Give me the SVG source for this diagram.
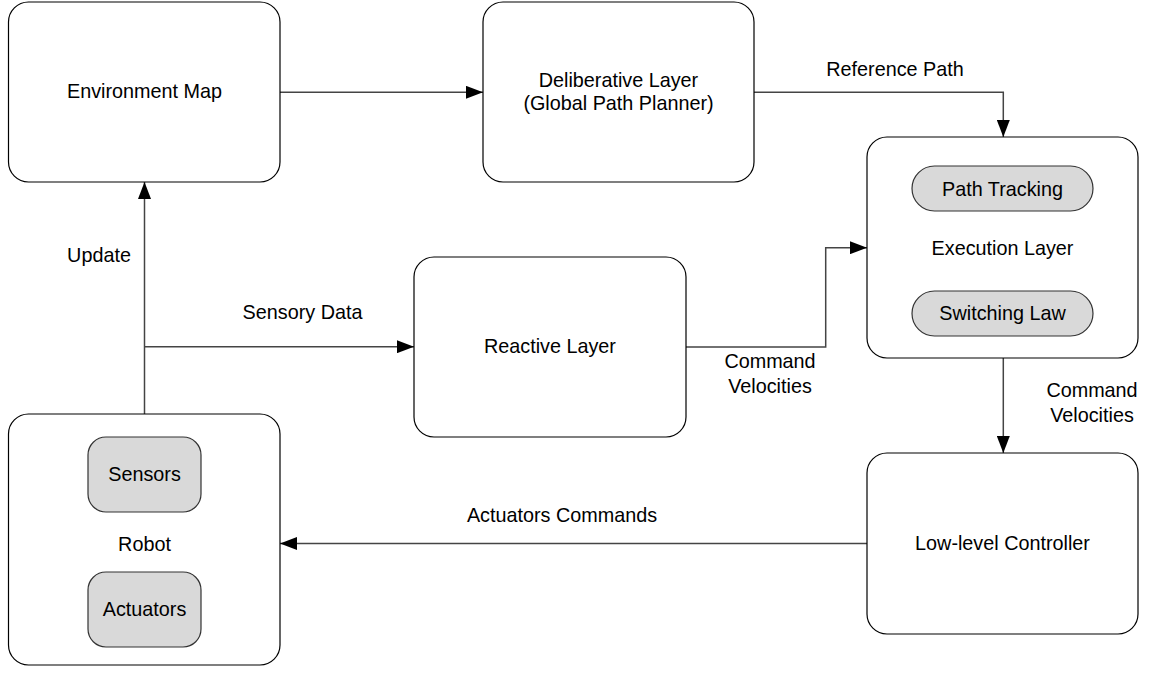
<svg xmlns="http://www.w3.org/2000/svg" width="1152" height="675" viewBox="0 0 1152 675">
<defs>
<style>
.box{fill:#fff;stroke:#000;stroke-width:1.2}
.sub{fill:#d9d9d9;stroke:#333;stroke-width:1.2}
.t{font-family:"Liberation Sans",Arial,sans-serif;font-size:19.8px;fill:#000;text-anchor:middle}
.c{fill:none;stroke:#444;stroke-width:1.5}
</style>
<marker id="ah" viewBox="0 0 17 13" refX="17" refY="6.5" markerWidth="17" markerHeight="13" markerUnits="userSpaceOnUse" orient="auto">
<path d="M0,0 L17,6.5 L0,13 Z" fill="#000"/>
</marker>
</defs>
<rect width="1152" height="675" fill="#fff"/>
<g id="connectors">
<path class="c" d="M280,92.3 L483,92.3" marker-end="url(#ah)"/>
<path class="c" d="M754,92.3 L1003.3,92.3 L1003.3,137" marker-end="url(#ah)"/>
<path class="c" d="M144.5,414 L144.5,182" marker-end="url(#ah)"/>
<path class="c" d="M144.5,346.7 L414,346.7" marker-end="url(#ah)"/>
<path class="c" d="M686,347 L825.7,347 L825.7,247.7 L867,247.7" marker-end="url(#ah)"/>
<path class="c" d="M1003.3,358 L1003.3,453" marker-end="url(#ah)"/>
<path class="c" d="M867,543.5 L280,543.5" marker-end="url(#ah)"/>
<text class="t" x="895" y="76">Reference Path</text>
<text class="t" x="99" y="262">Update</text>
<text class="t" x="302.5" y="319">Sensory Data</text>
<text class="t" x="770" y="368">Command</text>
<text class="t" x="770" y="392.7">Velocities</text>
<text class="t" x="1092" y="396.7">Command</text>
<text class="t" x="1092" y="421.7">Velocities</text>
<text class="t" x="562" y="522">Actuators Commands</text>
</g>
<g id="env-map">
<rect class="box" x="8.5" y="2" width="271.5" height="180" rx="20"/>
<text class="t" x="144.5" y="98">Environment Map</text>
</g>
<g id="deliberative">
<rect class="box" x="483" y="2" width="271" height="180" rx="20"/>
<text class="t" x="618.5" y="87">Deliberative Layer</text>
<text class="t" x="618.5" y="110">(Global Path Planner)</text>
</g>
<g id="execution">
<rect class="box" x="867" y="137" width="271" height="221" rx="20"/>
<rect class="sub" x="912" y="166" width="181" height="45" rx="22.5"/>
<text class="t" x="1002.5" y="196">Path Tracking</text>
<text class="t" x="1002.5" y="255">Execution Layer</text>
<rect class="sub" x="912" y="291" width="181" height="45" rx="22.5"/>
<text class="t" x="1002.5" y="320">Switching Law</text>
</g>
<g id="reactive">
<rect class="box" x="414" y="257" width="272" height="180" rx="20"/>
<text class="t" x="550" y="352.7">Reactive Layer</text>
</g>
<g id="robot">
<rect class="box" x="8.5" y="414" width="271.5" height="251" rx="20"/>
<rect class="sub" x="88" y="437" width="113" height="75" rx="18"/>
<text class="t" x="144.5" y="480.7">Sensors</text>
<text class="t" x="144.5" y="550.7">Robot</text>
<rect class="sub" x="88" y="572" width="113" height="75" rx="18"/>
<text class="t" x="144.5" y="616">Actuators</text>
</g>
<g id="low-level">
<rect class="box" x="867" y="453" width="271" height="181" rx="20"/>
<text class="t" x="1002.5" y="550">Low-level Controller</text>
</g>
</svg>
